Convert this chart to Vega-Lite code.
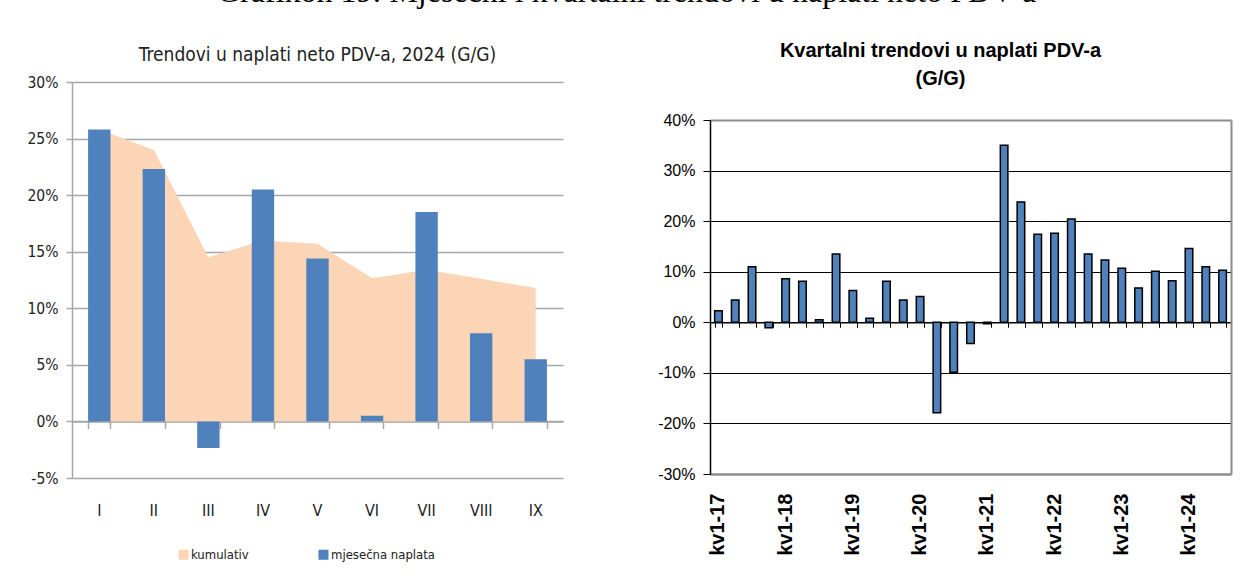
{
  "$schema": "https://vega.github.io/schema/vega-lite/v6.json",
  "padding": {"left": 27, "top": -24, "right": 0, "bottom": 0},
  "background": "white",
  "title": {
    "text": "Grafikon 19: Mjesečni i kvartalni trendovi u naplati neto PDV-a",
    "font": "Liberation Serif",
    "fontSize": 32,
    "fontWeight": "normal",
    "color": "#000000",
    "anchor": "start",
    "frame": "group",
    "dx": 145,
    "offset": 32
  },
  "resolve": {"scale": {"fill": "independent"}, "legend": {"fill": "independent"}},
  "datasets": {
    "monthly": [
      {"m": "I", "mj": 0.258, "kum": 0.258},
      {"m": "II", "mj": 0.223, "kum": 0.240},
      {"m": "III", "mj": -0.0235, "kum": 0.145},
      {"m": "IV", "mj": 0.205, "kum": 0.160},
      {"m": "V", "mj": 0.144, "kum": 0.157},
      {"m": "VI", "mj": 0.005, "kum": 0.1265},
      {"m": "VII", "mj": 0.185, "kum": 0.134},
      {"m": "VIII", "mj": 0.078, "kum": 0.126},
      {"m": "IX", "mj": 0.055, "kum": 0.118}
    ],
    "quarterly": [
      {"q": "kv1-17", "v": 0.023}, {"q": "kv2-17", "v": 0.044}, {"q": "kv3-17", "v": 0.110}, {"q": "kv4-17", "v": -0.011},
      {"q": "kv1-18", "v": 0.086}, {"q": "kv2-18", "v": 0.081}, {"q": "kv3-18", "v": 0.005}, {"q": "kv4-18", "v": 0.135},
      {"q": "kv1-19", "v": 0.063}, {"q": "kv2-19", "v": 0.008}, {"q": "kv3-19", "v": 0.081}, {"q": "kv4-19", "v": 0.044},
      {"q": "kv1-20", "v": 0.051}, {"q": "kv2-20", "v": -0.179}, {"q": "kv3-20", "v": -0.099}, {"q": "kv4-20", "v": -0.042},
      {"q": "kv1-21", "v": -0.003}, {"q": "kv2-21", "v": 0.350}, {"q": "kv3-21", "v": 0.238}, {"q": "kv4-21", "v": 0.174},
      {"q": "kv1-22", "v": 0.176}, {"q": "kv2-22", "v": 0.204}, {"q": "kv3-22", "v": 0.135}, {"q": "kv4-22", "v": 0.123},
      {"q": "kv1-23", "v": 0.107}, {"q": "kv2-23", "v": 0.068}, {"q": "kv3-23", "v": 0.101}, {"q": "kv4-23", "v": 0.082},
      {"q": "kv1-24", "v": 0.146}, {"q": "kv2-24", "v": 0.110}, {"q": "kv3-24", "v": 0.103}
    ]
  },
  "spacing": 94,
  "hconcat": [
    {
      "width": 491,
      "height": 396,
      "view": {"stroke": null},
      "title": {
        "text": "Trendovi u naplati neto PDV-a, 2024 (G/G)",
        "font": "DejaVu Sans Condensed, Roboto, sans-serif",
        "fontSize": 19,
        "fontWeight": "normal",
        "color": "#222222",
        "anchor": "middle",
        "frame": "group",
        "offset": 10
      },
      "data": {"name": "monthly"},
      "resolve": {"axis": {"x": "independent"}},
      "layer": [
        {
          "mark": {"type": "area", "stroke": null},
          "encoding": {
            "x": {
              "field": "m", "type": "ordinal", "sort": null,
              "scale": {"paddingInner": 0.59, "paddingOuter": 0.295},
              "axis": {
                "orient": "bottom", "title": null, "domain": false, "ticks": false, "grid": false,
                "labelAngle": 0, "labelPadding": 24, "labelFont": "DejaVu Sans Condensed, Roboto, sans-serif",
                "labelFontSize": 16, "labelColor": "#222222"
              }
            },
            "y": {
              "field": "kum", "type": "quantitative", "stack": null,
              "scale": {"domain": [-0.05, 0.3], "nice": false, "zero": false},
              "axis": {
                "title": null, "format": ".0%", "values": [-0.05, 0, 0.05, 0.1, 0.15, 0.2, 0.25, 0.3],
                "labelExpr": "replace(datum.label, '−', '-')",
                "grid": true, "gridColor": "#a6a6a6", "gridWidth": 1.5,
                "domainColor": "#a6a6a6", "domainWidth": 1.5,
                "tickColor": "#a6a6a6", "tickWidth": 1.5, "tickSize": 6,
                "labelFont": "DejaVu Sans Condensed, Roboto, sans-serif", "labelFontSize": 15.5, "labelColor": "#222222", "labelPadding": 8
              }
            },
            "fill": {
              "datum": "kumulativ",
              "scale": {"domain": ["kumulativ", "mjesečna naplata"], "range": ["#FBD5B5", "#4F81BD"]},
              "legend": {
                "orient": "none", "legendX": 105, "legendY": 466, "direction": "horizontal",
                "title": null, "symbolType": "square", "symbolSize": 100, "symbolStrokeWidth": 0,
                "labelFont": "DejaVu Sans Condensed, Roboto, sans-serif", "labelFontSize": 13, "labelColor": "#222222",
                "labelOffset": 1, "columnPadding": 68, "padding": 0
              }
            }
          }
        },
        {
          "mark": {"type": "bar"},
          "encoding": {
            "x": {
              "field": "m", "type": "ordinal", "sort": null,
              "axis": {
                "orient": "bottom", "title": null, "labels": false, "grid": false,
                "offset": -56.57, "tickBand": "extent", "ticks": true, "tickSize": 7,
                "tickColor": "#a6a6a6", "tickWidth": 1.5, "domain": true, "domainColor": "#a6a6a6", "domainWidth": 1.5
              }
            },
            "y": {"field": "mj", "type": "quantitative"},
            "fill": {"datum": "mjesečna naplata"}
          }
        }
      ]
    },
    {
      "width": 521,
      "height": 392,
      "view": {"stroke": null},
      "title": {
        "text": ["Kvartalni trendovi u naplati PDV-a", "(G/G)"],
        "font": "Liberation Sans",
        "fontSize": 20,
        "fontWeight": "bold",
        "color": "#000000",
        "lineHeight": 28,
        "anchor": "middle",
        "frame": "group",
        "dx": -30,
        "offset": -7
      },
      "data": {"name": "quarterly"},
      "resolve": {"axis": {"x": "independent", "y": "independent"}},
      "layer": [
        {
          "mark": {"type": "bar", "fill": "#4F81BD", "stroke": "#000000", "strokeWidth": 1.5},
          "encoding": {
            "x": {
              "field": "q", "type": "ordinal", "sort": null,
              "scale": {"paddingInner": 0.55, "paddingOuter": 0.275},
              "axis": {
                "orient": "bottom", "title": null, "domain": true, "domainColor": "#8c8c8c", "domainWidth": 2,
                "ticks": false, "grid": false,
                "labelAngle": -90, "labelPadding": 19, "labelOverlap": false,
                "labelExpr": "substring(datum.label, 0, 3) == 'kv1' ? datum.label : ''",
                "labelFont": "Liberation Sans", "labelFontWeight": "bold", "labelFontSize": 20, "labelColor": "#000000"
              }
            },
            "y": {
              "field": "v", "type": "quantitative",
              "scale": {"domain": [-0.3, 0.4], "nice": false, "zero": false, "range": [392, 38]},
              "axis": {
                "title": null, "format": ".0%", "values": [-0.3, -0.2, -0.1, 0, 0.1, 0.2, 0.3, 0.4],
                "labelExpr": "replace(datum.label, '−', '-')",
                "grid": true,
                "gridColor": {"condition": {"test": "datum.value > 0.39 || datum.value < -0.29", "value": "#8c8c8c"}, "value": "#000000"},
                "gridWidth": {"condition": {"test": "datum.value > 0.39 || datum.value < -0.29", "value": 2}, "value": 1},
                "domainColor": "#000000", "domainWidth": 1.5,
                "tickColor": "#000000", "tickWidth": 1, "tickSize": 7,
                "labelFont": "Liberation Sans", "labelFontSize": 16, "labelColor": "#000000", "labelPadding": 8
              }
            }
          }
        },
        {
          "mark": {"type": "bar", "opacity": 0},
          "encoding": {
            "x": {
              "field": "q", "type": "ordinal", "sort": null,
              "axis": {
                "orient": "bottom", "title": null, "labels": false, "grid": false,
                "offset": -151.71, "tickBand": "extent", "ticks": true, "tickSize": 5,
                "tickColor": "#000000", "tickWidth": 1, "domain": true, "domainColor": "#000000", "domainWidth": 1.5
              }
            },
            "y": {
              "field": "v", "type": "quantitative",
              "axis": {
                "orient": "right", "title": null, "labels": false, "ticks": false, "grid": false,
                "domain": true, "domainColor": "#8c8c8c", "domainWidth": 2
              }
            }
          }
        }
      ]
    }
  ]
}
